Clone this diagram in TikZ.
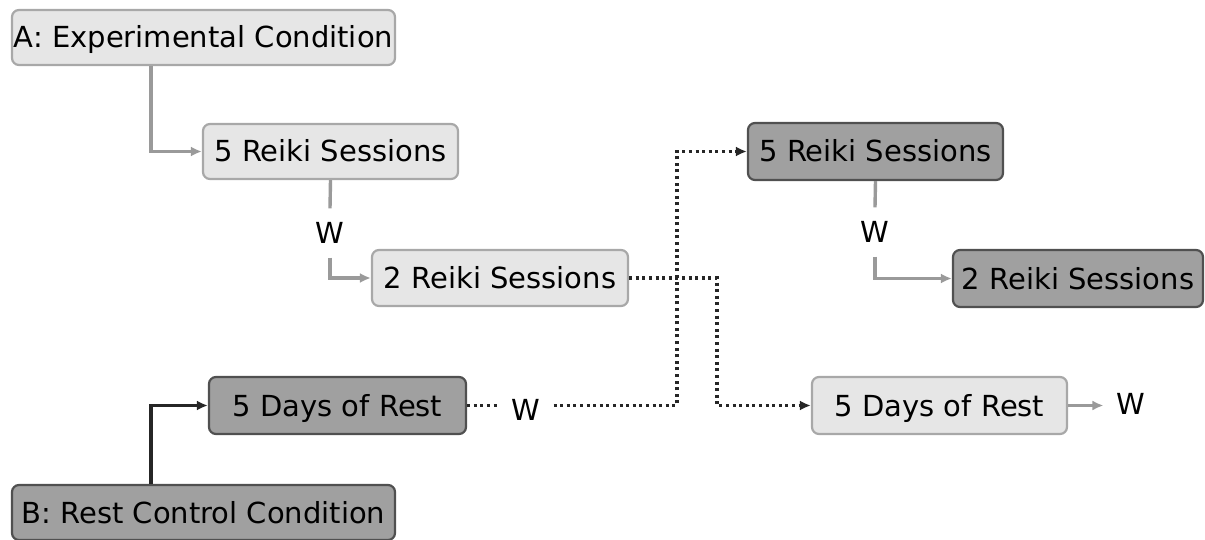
\documentclass[tikz,border=0pt]{standalone}
\usepackage{fontspec}
\setmainfont{DejaVu Sans}
\usetikzlibrary{arrows.meta,calc}
\definecolor{lightfill}{HTML}{E6E6E6}
\definecolor{lightborder}{HTML}{A8A8A8}
\definecolor{darkfill}{HTML}{A0A0A0}
\definecolor{darkborder}{HTML}{505050}
\definecolor{conngray}{HTML}{9A9A9A}
\tikzset{
  box/.style={rounded corners=7pt, line width=2.2pt, inner sep=0pt, align=center,
    font=\fontsize{29}{34}\selectfont, text height=21pt, text depth=0pt},
  lightbox/.style={box, fill=lightfill, draw=lightborder},
  darkbox/.style={box, fill=darkfill, draw=darkborder},
  wlabel/.style={font=\fontsize{29}{34}\selectfont, text height=21pt, text depth=0pt, inner xsep=13pt, inner ysep=14pt},
  grayline/.style={draw=conngray, line width=3.4pt},
  grayarrow/.style={grayline, -{Latex[length=11pt,width=10pt]}},
  blackarrow/.style={draw=black!85, line width=3.2pt, -{Latex[length=11pt,width=10pt]}},
  dotline/.style={draw=black!85, line width=3.2pt, dash pattern=on 3pt off 3.6pt},
  dotarrow/.style={dotline, -{Latex[length=11pt,width=10pt]}},
}
\begin{document}
\begin{tikzpicture}[x=1pt,y=-1pt]
\useasboundingbox (0,0) rectangle (1205,540);
% nodes
\node[lightbox, minimum width=383pt, minimum height=55pt] (A) at (203.5,37.5) {A: Experimental Condition};
\node[lightbox, minimum width=255pt, minimum height=55pt] (A1) at (330.5,151.5) {5 Reiki Sessions};
\node[lightbox, minimum width=256pt, minimum height=56pt] (A2) at (500,278) {2 Reiki Sessions};
\node[darkbox, minimum width=257pt, minimum height=57pt] (B1) at (337.5,405.5) {5 Days of Rest};
\node[darkbox, minimum width=383pt, minimum height=55pt] (B) at (203.5,512.5) {B: Rest Control Condition};
\node[darkbox, minimum width=255pt, minimum height=57pt] (B2) at (875.5,151.5) {5 Reiki Sessions};
\node[darkbox, minimum width=250pt, minimum height=57pt] (B3) at (1078,278.5) {2 Reiki Sessions};
\node[lightbox, minimum width=255pt, minimum height=57pt] (A3) at (939.5,405.5) {5 Days of Rest};
% W labels
\node[wlabel] (W1) at (330,233) {W};
\node[wlabel] (W2) at (526,410) {W};
\node[wlabel] (W3) at (875,232) {W};
\node[wlabel] (W4) at (1131,404) {W};
% connectors
\draw[grayarrow] ([xshift=140pt]A.south west) |- (A1.west);
\draw[grayline] (A1.south) -- (W1.north);
\draw[grayarrow] (W1.south) |- (A2.west);
\draw[blackarrow] ([xshift=140pt]B.north west) |- (B1.west);
\draw[dotline] (B1.east) -- (B1.east -| W2.west);
\draw[dotarrow] (W2.east |- B1.east) -| ($(B2.west)+(-70,0)$) -- (B2.west);
\draw[dotarrow] (A2.east) -| ($(A3.west)+(-94,0)$) -- (A3.west);
\draw[grayline] (B2.south) -- (W3.north);
\draw[grayarrow] (W3.south) |- (B3.west);
\draw[grayarrow] (A3.east) -- (A3.east -| W4.west);
\end{tikzpicture}
\end{document}
